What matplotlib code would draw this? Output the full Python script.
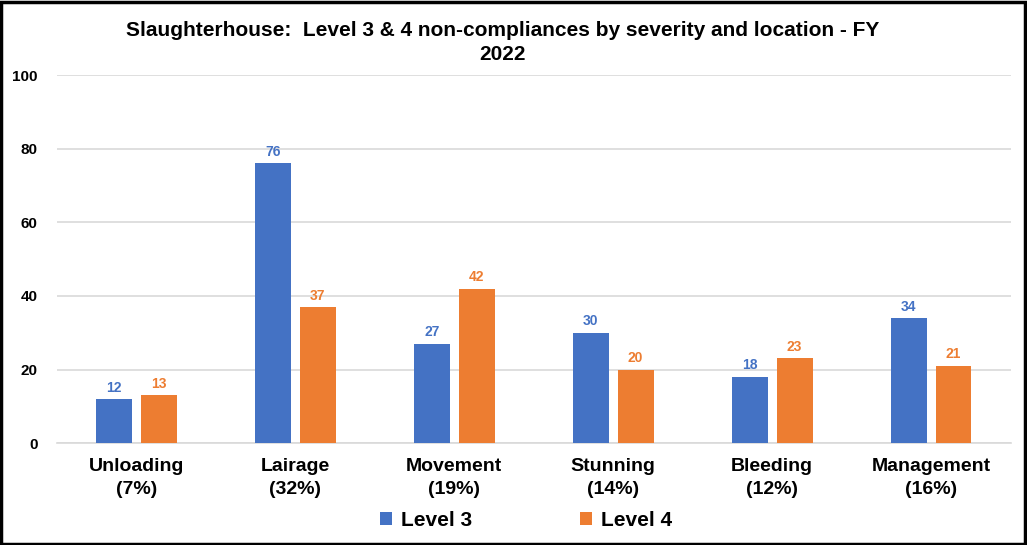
import numpy as np
import matplotlib.pyplot as plt
from matplotlib.patches import Rectangle

categories = ['Unloading\n(7%)', 'Lairage\n(32%)', 'Movement\n(19%)',
              'Stunning\n(14%)', 'Bleeding\n(12%)', 'Management\n(16%)']
level3 = [12, 76, 27, 30, 18, 34]
level4 = [13, 37, 42, 20, 23, 21]

blue = '#4472C4'
orange = '#ED7D31'

plt.rcParams['font.family'] = ['Liberation Sans', 'DejaVu Sans']
plt.rcParams['font.weight'] = 'bold'

fig = plt.figure(figsize=(10.27, 5.45), dpi=100)
ax = fig.add_axes([0.0555, 0.187, 0.9285, 0.675])

x = np.arange(len(categories))
w = 0.226
off = 0.141
b3 = ax.bar(x - off, level3, w, color=blue, label='Level 3', zorder=3)
b4 = ax.bar(x + off, level4, w, color=orange, label='Level 4', zorder=3)

for bars, col in ((b3, blue), (b4, orange)):
    for b in bars:
        ax.text(b.get_x() + b.get_width() / 2, b.get_height() + 1.2, str(int(b.get_height())),
                ha='center', va='bottom', color=col, fontsize=10, fontweight='bold')

ax.set_xlim(-0.5, len(categories) - 0.5)
ax.set_ylim(0, 100)
ax.set_yticks(range(0, 101, 20))
ax.yaxis.grid(True, color='#D9D9D9', linewidth=1.2, zorder=0)
ax.set_axisbelow(True)
ax.set_xticks(x)
ax.set_xticklabels(categories, fontsize=14, fontweight='bold', linespacing=1.4)
for lab in ax.get_yticklabels():
    lab.set_fontsize(11)
    lab.set_fontweight('bold')
ax.tick_params(axis='both', length=0)
ax.tick_params(axis='x', pad=11)
ax.tick_params(axis='y', pad=14)
for s in ['top', 'right', 'left']:
    ax.spines[s].set_visible(False)
ax.spines['bottom'].set_color('#D9D9D9')
ax.spines['bottom'].set_linewidth(1.2)

fig.text(0.489, 0.922, 'Slaughterhouse:  Level 3 & 4 non-compliances by severity and location - FY\n2022',
         ha='center', va='center', fontsize=15, fontweight='bold', linespacing=1.3)

fig.legend(handles=[b3, b4], loc='center', bbox_to_anchor=(0.512, 0.045), ncol=2,
           frameon=False, fontsize=15, handlelength=0.6, handleheight=0.6,
           columnspacing=5.2, handletextpad=0.4)

fig.patches.append(Rectangle((0.001, 0.002), 0.997, 0.995, transform=fig.transFigure,
                             fill=False, edgecolor='black', linewidth=2.5))

fig.savefig('out.png', dpi=100)
